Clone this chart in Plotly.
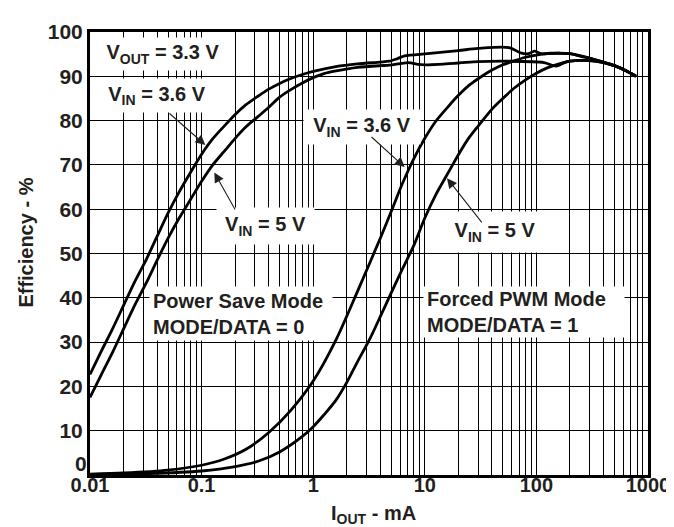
import math
import plotly.graph_objects as go

# ---- data (I_OUT in mA, efficiency in %) ----
ps36_x = [0.01, 0.0126, 0.016, 0.02, 0.025, 0.032, 0.04, 0.05, 0.063, 0.08, 0.1, 0.125, 0.16, 0.2, 0.25,
          0.32, 0.4, 0.5, 0.63, 0.8, 1, 1.6, 2.5, 4, 4.8, 5.7, 6.6, 10.6, 20, 30, 57, 72, 85, 96, 110, 135,
          160, 200, 250, 320, 400, 500, 630, 780]
ps36_y = [22.7, 27.9, 33.1, 38.3, 43.5, 48.7, 53.9, 59.1, 63.9, 68.4, 72.4, 75.8, 78.8, 81.4, 83.6,
          85.5, 87.1, 88.4, 89.5, 90.4, 91.1, 92.2, 92.8, 93.2, 93.4, 94.0, 94.6, 95.1, 95.8, 96.3, 96.5, 95.3, 95.1, 95.7, 95.1, 95.2,
          95.2, 95.1, 94.6, 93.9, 93.2, 92.4, 91.3, 90.0]

ps5_x = [0.01, 0.0126, 0.016, 0.02, 0.025, 0.032, 0.04, 0.05, 0.063, 0.08, 0.1, 0.125, 0.16, 0.2, 0.25,
         0.32, 0.4, 0.5, 0.63, 0.8, 1, 1.25, 1.6, 2.5, 4, 4.8, 7.1, 8.7, 10, 20, 30, 55, 117, 150, 178,
         200, 250, 320, 400, 500, 630, 780]
ps5_y = [17.5, 22.6, 27.8, 33.0, 38.2, 43.4, 48.5, 53.4, 58.0, 62.3, 66.3, 69.9, 73.1, 76.0, 78.6,
         80.9, 83.0, 85.3, 87.0, 88.5, 89.7, 90.6, 91.2, 92.0, 92.4, 92.5, 93.1, 92.7, 92.6, 93.0, 93.3, 93.4, 93.1, 92.3, 93.1,
         93.4, 93.6, 93.5, 93.1, 92.4, 91.3, 90.0]

f36_x = [0.01, 0.02, 0.05, 0.1, 0.16, 0.25, 0.4, 0.63, 1, 1.6, 2.5, 4, 5, 6.3, 8, 10, 12.5, 16, 20, 25,
         32, 40, 50, 63, 80, 100, 125, 160, 200, 250, 320, 400, 500, 630, 780]
f36_y = [0.2, 0.45, 1.1, 2.2, 3.6, 5.8, 9.6, 14.6, 21.2, 30.5, 41.5, 53.5, 59.5, 65.8, 71.5, 76.0, 79.8, 83.0, 85.7, 88.0,
         89.9, 91.4, 92.6, 93.5, 94.3, 94.8, 95.1, 95.2, 95.1, 94.5, 93.9, 93.2, 92.4, 91.3, 90.0]

f5_x = [0.01, 0.032, 0.1, 0.2, 0.32, 0.5, 0.8, 1, 1.25, 1.6, 2, 2.5, 3.2, 4, 5, 6.3, 8, 10, 12.5, 16,
        20, 25, 32, 40, 50, 63, 80, 100, 125, 160, 200, 250, 320, 400, 500, 630, 780]
f5_y = [0.1, 0.3, 0.9, 1.9, 3.1, 5.2, 8.7, 10.9, 13.6, 16.9, 20.9, 25.6, 30.6, 35.8, 41.1, 46.5, 51.9, 58.0, 63.2, 68.0,
        72.3, 76.2, 79.6, 82.6, 85.0, 87.3, 89.2, 90.7, 91.9, 92.8, 93.4, 93.6, 93.5, 93.1, 92.4, 91.3, 90.0]

x_tick_vals = [0.01, 0.1, 1, 10, 100, 1000]
x_tick_text = ["0.01", "0.1", "1", "10", "100", "1000"]
y_tick_vals = [10, 20, 30, 40, 50, 60, 70, 80, 90, 100]
y_zero_label = "0"

FONT = "Arial, Liberation Sans, sans-serif"
TXT = "#231F20"
FS = 20

fig = go.Figure()
for xs, ys in [(ps36_x, ps36_y), (ps5_x, ps5_y), (f36_x, f36_y), (f5_x, f5_y)]:
    fig.add_trace(go.Scatter(x=xs, y=ys, mode="lines",
                             line=dict(color="black", width=2.8, shape="spline", smoothing=0.8),
                             showlegend=False, hoverinfo="skip"))

L, R, T, B = 82, 34, 19, 60
W, H = 674, 527
PW, PH = W - L - R, H - T - B

def px(xp):
    return (xp - L) / PW

def py(yp):
    return (H - B - yp) / PH

annotations = []
PAD = 3

def box(text, cx, cy, w, h, align="center"):
    annotations.append(dict(text=text, xref="paper", yref="paper", x=px(cx), y=py(cy),
                            xanchor="center", yanchor="middle", showarrow=False,
                            width=w - 2 * PAD, height=h - 2 * PAD, align=align, valign="middle",
                            bgcolor="white", borderpad=PAD,
                            font=dict(family=FONT, size=FS, color=TXT, weight="bold")))

box("V<sub>OUT</sub> = 3.3 V", 155, 41, 134, 32)
box("V<sub>IN</sub> = 3.6 V", 149, 83.5, 122, 33)
box("V<sub>IN</sub> = 5 V", 257, 215, 97, 36)
box("V<sub>IN</sub> = 3.6 V", 354, 115, 116, 34)
box("V<sub>IN</sub> = 5 V", 487, 221, 104, 40)
box("Power Save Mode<br>MODE/DATA = 0", 233, 303.5, 182, 53, align="left")
box("Forced PWM Mode<br>MODE/DATA = 1", 516, 302, 200, 50, align="left")

def arrow(head, tail):
    annotations.append(dict(text="", xref="x", yref="y", x=math.log10(head[0]), y=head[1],
                            axref="x", ayref="y", ax=math.log10(tail[0]), ay=tail[1],
                            showarrow=True, arrowhead=2, arrowsize=1.8, arrowwidth=1.1,
                            arrowcolor=TXT, standoff=0, startstandoff=0))

arrow((0.108, 74.5), (0.05, 81.9))
arrow((0.13, 68.3), (0.203, 59.6))
arrow((6.6, 69.5), (3.23, 76.6))
arrow((15.8, 67.0), (33.2, 56.7))

annotations.append(dict(text="Efficiency - %", xref="paper", yref="paper", x=px(18), y=py(232),
                        textangle=-90, showarrow=False, xanchor="center", yanchor="middle",
                        font=dict(family=FONT, size=FS, color=TXT, weight="bold")))
annotations.append(dict(text="I<sub>OUT</sub> - mA", xref="paper", yref="paper", x=px(365), y=py(507),
                        showarrow=False, xanchor="center", yanchor="middle",
                        font=dict(family=FONT, size=FS, color=TXT, weight="bold")))
# bottom y tick label, drawn slightly raised as in the original
annotations.append(dict(text=y_zero_label, xref="paper", yref="paper", x=px(80), y=py(455),
                        showarrow=False, xanchor="right", yanchor="middle", borderpad=0,
                        font=dict(family=FONT, size=21, color=TXT, weight="bold")))

fig.update_layout(
    width=W, height=H,
    margin=dict(l=L, r=R, t=T, b=B, pad=0),
    paper_bgcolor="white", plot_bgcolor="white",
    font=dict(family=FONT, size=FS, color=TXT),
    annotations=annotations,
    xaxis=dict(type="log", range=[-2, 3], tickmode="array", tickvals=x_tick_vals, ticktext=x_tick_text,
               showgrid=True, gridcolor="black", gridwidth=1,
               minor=dict(dtick="D1", showgrid=True, gridcolor="black", gridwidth=1, ticks=""),
               showline=True, linecolor="black", linewidth=3, mirror=True, ticks="",
               ticklabelstandoff=-10,
               tickfont=dict(family=FONT, size=FS, color=TXT, weight="bold"), zeroline=False),
    yaxis=dict(range=[0, 100], tickmode="array", tickvals=y_tick_vals,
               showgrid=True, gridcolor="black", gridwidth=1,
               showline=True, linecolor="black", linewidth=3, mirror=True, ticks="",
               tickfont=dict(family=FONT, size=21, color=TXT, weight="bold"), zeroline=False),
)

fig.write_html("out.html")
